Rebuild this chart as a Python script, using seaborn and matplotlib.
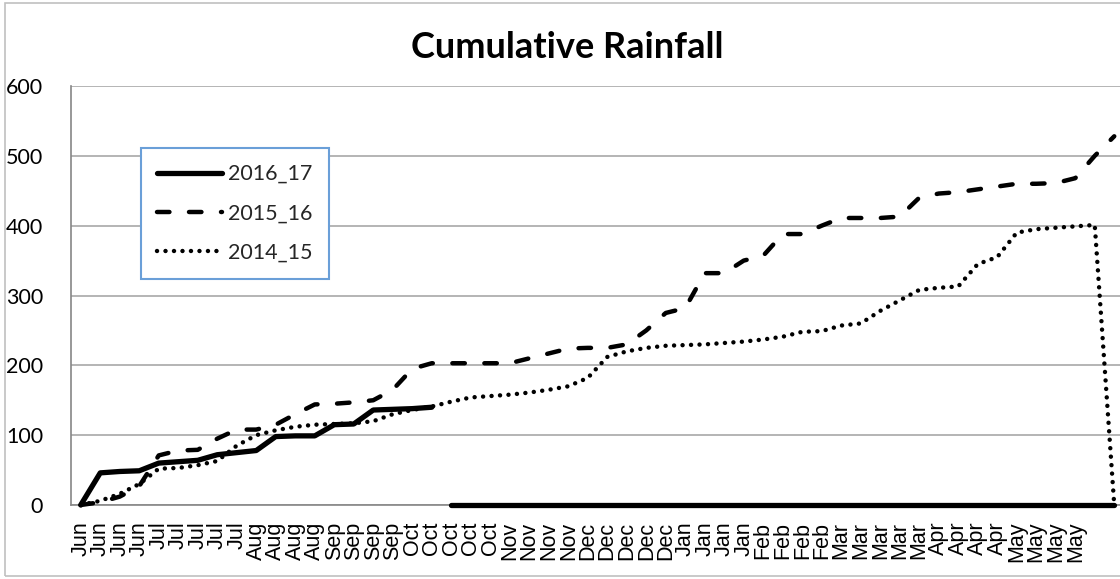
import numpy as np
import pandas as pd
import matplotlib
matplotlib.use("Agg")
import matplotlib.pyplot as plt
from matplotlib.patches import Rectangle
import seaborn as sns

# ---------------- data ----------------
week_labels = ['Jun', 'Jun', 'Jun', 'Jun',
               'Jul', 'Jul', 'Jul', 'Jul', 'Jul',
               'Aug', 'Aug', 'Aug', 'Aug',
               'Sep', 'Sep', 'Sep', 'Sep',
               'Oct', 'Oct', 'Oct', 'Oct', 'Oct',
               'Nov', 'Nov', 'Nov', 'Nov',
               'Dec', 'Dec', 'Dec', 'Dec', 'Dec',
               'Jan', 'Jan', 'Jan', 'Jan',
               'Feb', 'Feb', 'Feb', 'Feb',
               'Mar', 'Mar', 'Mar', 'Mar', 'Mar',
               'Apr', 'Apr', 'Apr', 'Apr',
               'May', 'May', 'May', 'May',
               '', '']

rain_2016_17 = [0, 46, 48, 49, 60, 62, 64, 72, 75, 78, 98, 99, 99, 115, 116, 136, 137, 138, 140,
                0, 0, 0, 0, 0, 0, 0, 0, 0, 0, 0, 0, 0, 0, 0, 0, 0, 0,
                0, 0, 0, 0, 0, 0, 0, 0, 0, 0, 0, 0, 0, 0, 0, 0, 0]
break_2016_17 = 19  # the season's record stops here; zeros follow as a separate run

rain_2015_16 = [0, 4, 12, 27, 71, 78, 79, 95, 108, 108, 115, 130, 144, 145, 147, 150, 165, 195,
                203, 203, 203, 203, 203, 210, 217, 224, 225, 225, 230, 250, 275, 282, 332,
                332, 350, 357, 388, 388, 400, 411, 411, 411, 413, 440, 446, 448, 452, 456,
                460, 460, 461, 468, 500, 528]

rain_2014_15 = [0, 6, 16, 30, 52, 53, 57, 63, 85, 100, 107, 112, 115, 116, 117, 120, 130, 136,
                141, 148, 154, 156, 158, 161, 165, 170, 182, 212, 220, 225, 228, 229, 230,
                232, 234, 237, 241, 248, 249, 257, 260, 278, 293, 308, 311, 313, 345, 355,
                390, 395, 397, 399, 401, 0]

series_names = ['2016_17', '2015_16', '2014_15']
y_ticks = [0, 100, 200, 300, 400, 500, 600]

# ---------------- figure ----------------
W, H = 1120, 579
sns.set_style("white")
plt.rcParams['font.family'] = ['Lato', 'DejaVu Sans']

fig = plt.figure(figsize=(W / 100, H / 100), dpi=100)
fig.patch.set_facecolor('white')

# outer chart border
fig.patches.append(Rectangle((5 / W, 3 / H), (W + 20) / W, (H - 6) / H,
                             transform=fig.transFigure, fill=False,
                             edgecolor='#c0c0c0', linewidth=1.2, zorder=0))

left_px, right_px, top_px, bottom_px = 71, 1124, 86, 505
ax = fig.add_axes([left_px / W, 1 - bottom_px / H,
                   (right_px - left_px) / W, (bottom_px - top_px) / H])

n = len(week_labels)
x = np.arange(n)

styles = {
    '2016_17': dict(color='black', linewidth=3.8, solid_capstyle='round', solid_joinstyle='round'),
    '2015_16': dict(color='black', linewidth=3.2, linestyle=(0, (2.8, 4.4)),
                    dash_capstyle='round', dash_joinstyle='round'),
    '2014_15': dict(color='black', linewidth=3.2, linestyle=(0, (0.01, 1.9)),
                    dash_capstyle='round', dash_joinstyle='round'),
}

# 2016_17: two runs
df17a = pd.DataFrame({'x': x[:break_2016_17], 'y': rain_2016_17[:break_2016_17]})
df17b = pd.DataFrame({'x': x[break_2016_17:], 'y': rain_2016_17[break_2016_17:]})
sns.lineplot(data=df17a, x='x', y='y', ax=ax, label='2016_17', **styles['2016_17'])
sns.lineplot(data=df17b, x='x', y='y', ax=ax, label='_nolegend_', **styles['2016_17'])

df16 = pd.DataFrame({'x': x, 'y': rain_2015_16})
sns.lineplot(data=df16, x='x', y='y', ax=ax, label='2015_16', **styles['2015_16'])

df15 = pd.DataFrame({'x': x, 'y': rain_2014_15})
sns.lineplot(data=df15, x='x', y='y', ax=ax, label='2014_15', **styles['2014_15'])

for ln in ax.lines:
    ln.set_clip_on(False)
    ln.set_zorder(4)

ax.set_xlim(-0.5, n - 0.5)
ax.set_ylim(0, 600)
ax.set_yticks(y_ticks)
ax.set_yticklabels([str(v) for v in y_ticks])

# category-boundary ticks with labels at centres
ax.set_xticks(np.arange(n + 1) - 0.5)
ax.set_xticklabels([])
ax.set_xticks(x, minor=True)
ax.set_xticklabels(week_labels, minor=True, rotation=90,
                   fontfamily=['Liberation Sans', 'DejaVu Sans'], fontsize=15.5)
ax.tick_params(axis='x', which='major', length=8, width=1, color='#868686', direction='out')
ax.tick_params(axis='x', which='minor', length=0, pad=12, labelcolor='black')
ax.tick_params(axis='y', which='major', length=8, width=1, color='#868686',
               direction='out', pad=12, labelsize=15.5, labelcolor='black')

ax.set_xlabel('')
ax.set_ylabel('')
ax.yaxis.grid(True, color='#a0a0a0', linewidth=1.1)
ax.xaxis.grid(False)
ax.set_axisbelow(True)
for side in ['top', 'right']:
    ax.spines[side].set_visible(False)
for side in ['left', 'bottom']:
    ax.spines[side].set_color('#868686')
    ax.spines[side].set_linewidth(1.2)

# title
fig.text(567 / W, 1 - 48 / H, 'Cumulative Rainfall', ha='center', va='center',
         fontsize=26, fontweight='bold', color='black')

# legend
leg = ax.legend(loc='upper left', bbox_to_anchor=(141 / W, 1 - 148 / H),
                bbox_transform=fig.transFigure, borderaxespad=0, frameon=True,
                fancybox=False, edgecolor='#6a9fd8', fontsize=15.5,
                handlelength=3.0, handletextpad=0.3, labelspacing=0.9,
                borderpad=0.75)
leg.get_frame().set_linewidth(1.5)
leg.get_frame().set_facecolor('white')
leg.get_frame().set_alpha(1)
leg.set_zorder(5)

fig.savefig('out.png', dpi=100, facecolor='white')
